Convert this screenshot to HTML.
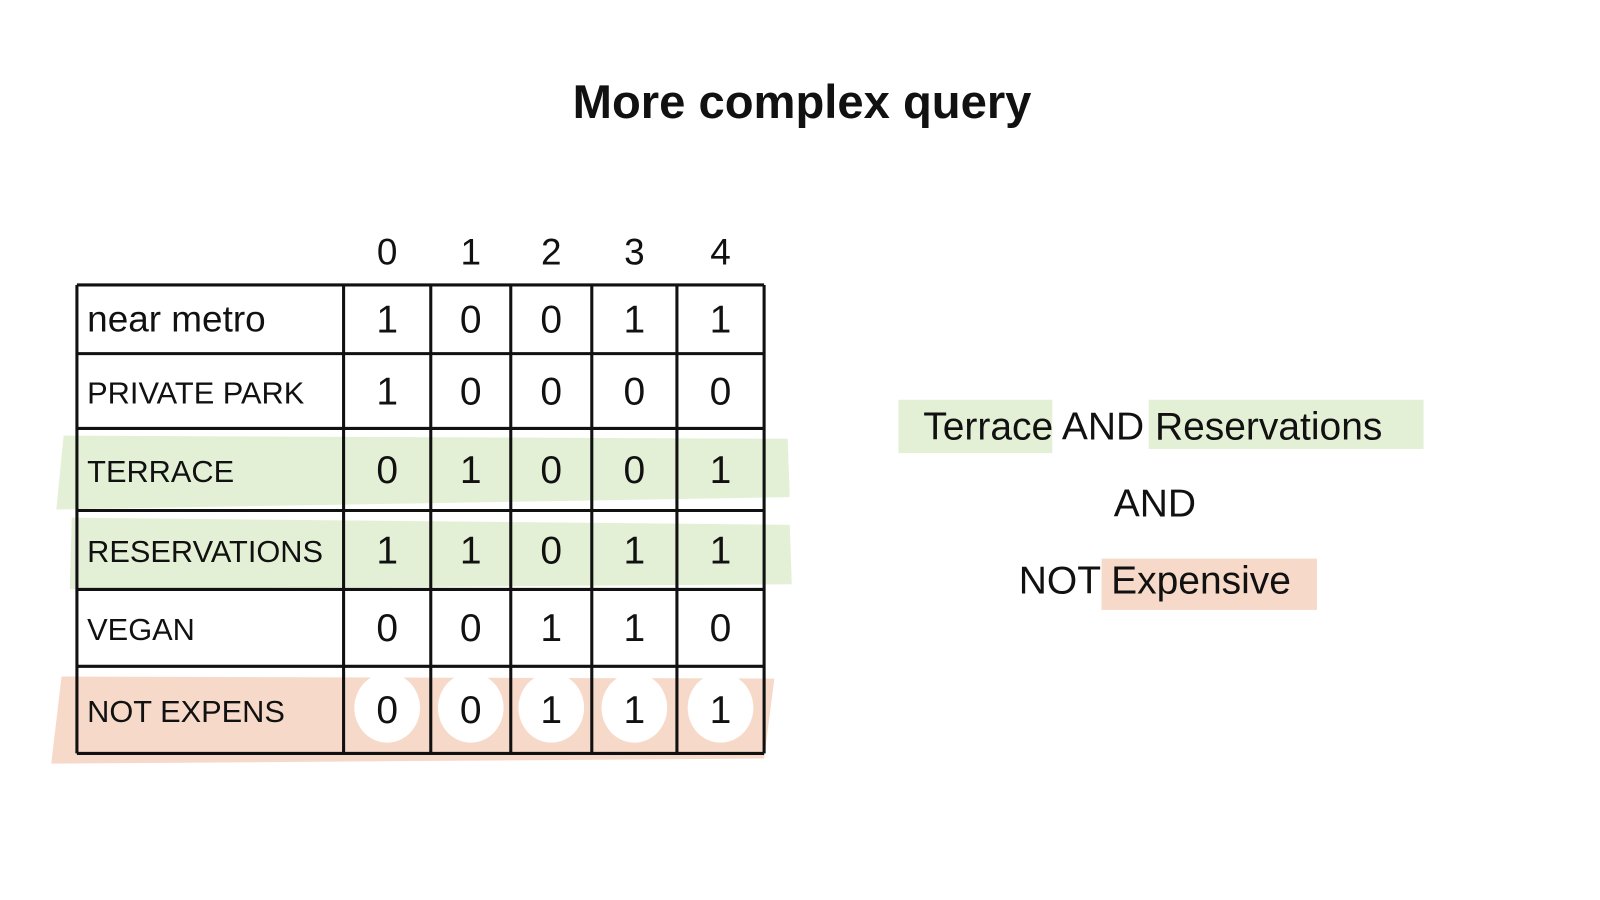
<!DOCTYPE html>
<html><head><meta charset="utf-8"><style>
html,body{margin:0;padding:0;background:#fff;width:1600px;height:900px;overflow:hidden}
svg{display:block}
</style></head><body>
<svg width="1600" height="900" viewBox="0 0 1560 878" preserveAspectRatio="none" font-family="'Liberation Sans', sans-serif">
<text x="782" y="115" font-size="46" font-weight="bold" text-anchor="middle" fill="#111">More complex query</text>
<g id="hl">
<path d="M62 425 L768 428 L770 485 L55 497 Z" fill="#e4f0d6"/>
<path d="M70 505 L770 512 L772 570 L68 575 Z" fill="#e4f0d6"/>
<path d="M60 660 L755 662 L745 740 L50 745 Z" fill="#f6d9c8"/>
</g>
<g id="tbl"></g>
<g font-size="38" fill="#111">
<rect x="876" y="390" width="150" height="52" fill="#e4f0d6"/>
<rect x="1120" y="390" width="268" height="48" fill="#e4f0d6"/>
<rect x="1074" y="545" width="210" height="50" fill="#f6d9c8"/>
<text x="1124" y="429" text-anchor="middle">Terrace AND Reservations</text>
<text x="1126" y="504" text-anchor="middle">AND</text>
<text x="1126" y="579" text-anchor="middle">NOT Expensive</text>
</g>
</svg>
<script>
const rowLabels=["near metro","PRIVATE PARK","TERRACE","RESERVATIONS","VEGAN","NOT EXPENS"];
const colLabels=["0","1","2","3","4"];
const bits=[[1,0,0,1,1],[1,0,0,0,0],[0,1,0,0,1],[1,1,0,1,1],[0,0,1,1,0],[0,0,1,1,1]];
const NS="http://www.w3.org/2000/svg";
const g=document.getElementById('tbl');
const xs=[75,335,420,498,577,660,745], ys=[278,345,418,498,575,650,735];
function el(t,a){const e=document.createElementNS(NS,t);for(const k in a)e.setAttribute(k,a[k]);g.appendChild(e);return e;}
for(let i=0;i<xs.length;i++){const l=el('line',{x1:xs[i],y1:ys[0],x2:xs[i],y2:ys[ys.length-1],stroke:'#111','stroke-width':3});

}
for(let j=0;j<ys.length;j++){const l=el('line',{x1:xs[0],y1:ys[j],x2:xs[xs.length-1],y2:ys[j],stroke:'#111','stroke-width':3});

}
colLabels.forEach((c,i)=>{const t=el('text',{x:(xs[i+1]+xs[i+2])/2,y:258,'font-size':36,'text-anchor':'middle',fill:'#111'});t.textContent=c;

});
rowLabels.forEach((r,j)=>{const cy=(ys[j]+ys[j+1])/2;
const t=el('text',{x:85,y:cy+12,'font-size':j==0?36:30,fill:'#111'});t.textContent=r;


bits[j].forEach((b,i)=>{const cx=(xs[i+1]+xs[i+2])/2;
if(j==5){const c=el('ellipse',{cx:cx,cy:cy-2,rx:32,ry:34,fill:'#fff'});}
const v=el('text',{x:cx,y:cy+13,'font-size':38,'text-anchor':'middle',fill:'#111'});v.textContent=b;

});});
</script>
</body></html>
